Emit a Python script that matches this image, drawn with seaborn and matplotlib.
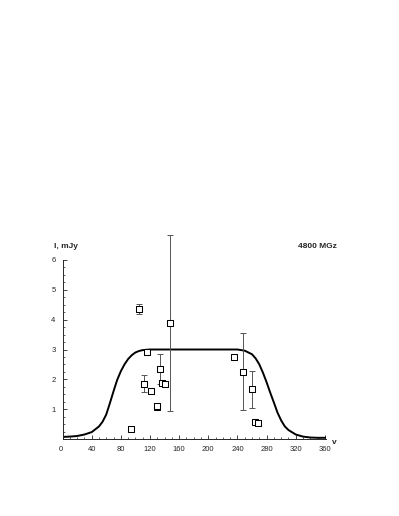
import numpy as np
import pandas as pd
import matplotlib
matplotlib.use("Agg")
import matplotlib.pyplot as plt
import seaborn as sns
from matplotlib.ticker import MultipleLocator

# model curve
curve_x = [0, 10, 20, 30, 40, 50, 55, 60, 65, 70, 75, 80, 85, 90, 95, 100, 105, 110, 120,
           160, 200, 240, 250, 260, 265, 270, 275, 280, 285, 290, 295, 300, 305,
           310, 320, 330, 340, 350, 362]
curve_y = [0.07, 0.08, 0.10, 0.15, 0.23, 0.42, 0.58, 0.82, 1.20, 1.60, 1.98, 2.27,
           2.50, 2.68, 2.81, 2.90, 2.95, 2.98, 3.00,
           3.00, 3.00, 3.00, 2.96, 2.84, 2.70, 2.50, 2.22, 1.90, 1.55, 1.22, 0.88,
           0.62, 0.42, 0.30, 0.15, 0.08, 0.05, 0.04, 0.04]

# measurements with error bars
err_x = [104.5, 147.5, 133.3, 111.4, 247.2, 260.0]
err_y = [4.36, 3.89, 2.36, 1.86, 2.25, 1.67]
err_e = [0.18, 2.95, 0.50, 0.27, 1.29, 0.62]

# measurements without error bars
pt_x = [116.3, 136.1, 140.6, 121.4, 129.5, 130.3, 93.6, 235.7, 264.0, 268.6]
pt_y = [2.92, 1.89, 1.83, 1.60, 1.07, 1.12, 0.34, 2.75, 0.57, 0.52]

x_ticks = [0, 40, 80, 120, 160, 200, 240, 280, 320, 360]
y_ticks = [1, 2, 3, 4, 5, 6]

sns.set_style("ticks")
plt.rcParams["font.family"] = ["Liberation Sans", "DejaVu Sans"]

W, H = 399, 516
fig = plt.figure(figsize=(W / 100, H / 100), dpi=100)
x0, x1 = 62.5, 326.4
yb, yt = 439, 260
ax = fig.add_axes([x0 / W, 1 - yb / H, (x1 - x0) / W, (yb - yt) / H])

curve = pd.DataFrame({"x": curve_x, "y": curve_y})
sns.lineplot(data=curve, x="x", y="y", ax=ax, color="black", lw=1.4, zorder=2,
             sort=False)

ax.errorbar(err_x, err_y, yerr=err_e, fmt="none", ecolor="#555555",
            elinewidth=0.7, capsize=2.0, capthick=0.7, zorder=3, clip_on=False)

pts = pd.DataFrame({"x": err_x + pt_x, "y": err_y + pt_y})
sns.scatterplot(data=pts, x="x", y="y", ax=ax, marker="s", s=17,
                facecolor="white", edgecolor="black", linewidth=0.75, zorder=4,
                clip_on=False)

ax.set_xlim(0, 362)
ax.set_ylim(0, 6)
ax.set_xlabel("")
ax.set_ylabel("")
sns.despine(ax=ax)
for s in ["left", "bottom"]:
    ax.spines[s].set_linewidth(0.7)

ax.set_xticks(x_ticks)
ax.set_xticklabels([str(v) for v in x_ticks])
ax.set_yticks(y_ticks)
ax.set_yticklabels([str(v) for v in y_ticks])
ax.xaxis.set_minor_locator(MultipleLocator(10))
ax.yaxis.set_minor_locator(MultipleLocator(0.25))
ax.tick_params(which="major", direction="in", length=3, width=0.6,
               labelsize=5.5, pad=5)
ax.tick_params(which="minor", direction="in", length=1.6, width=0.5)
ax.get_xticklabels()[0].set_horizontalalignment("right")

fig.text(54 / W, 1 - 246 / H, "l, mJy", fontsize=6, fontweight="bold",
         ha="left", va="center")
fig.text(337 / W, 1 - 247 / H, "4800 MGz", fontsize=6, fontweight="bold",
         ha="right", va="center")
fig.text(332 / W, 1 - 442 / H, "v", fontsize=6, fontweight="bold",
         ha="left", va="center")

fig.savefig("out.png", dpi=100)
